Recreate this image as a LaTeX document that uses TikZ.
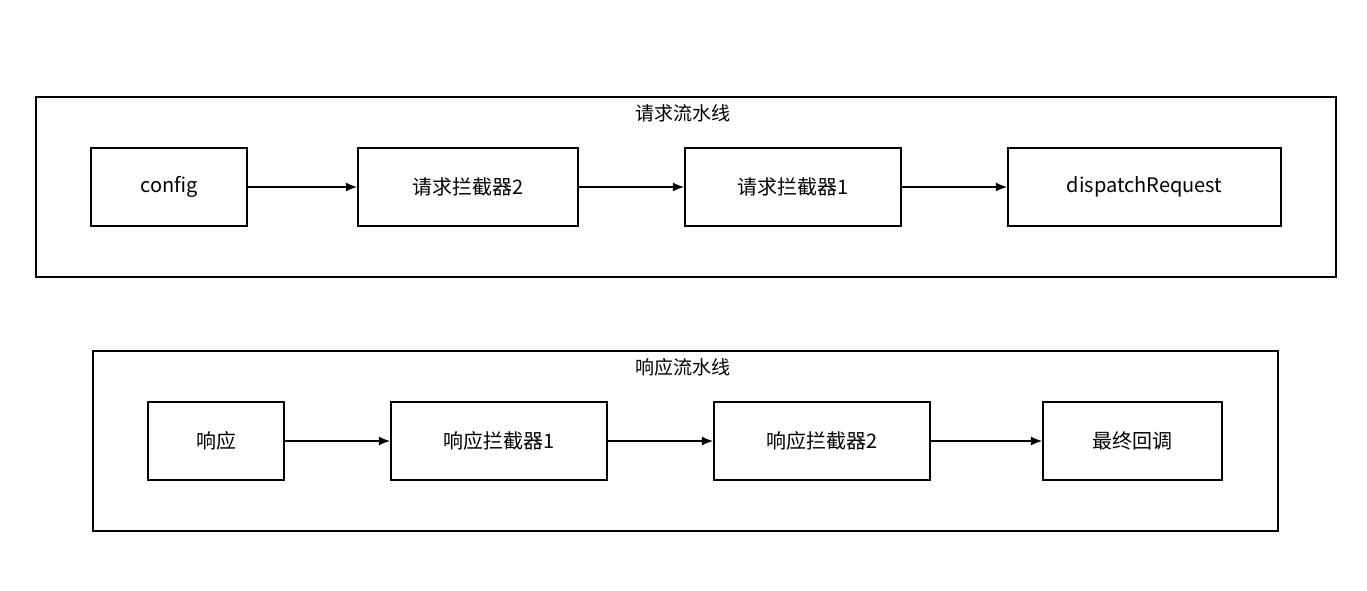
\documentclass[tikz,border=0pt]{standalone}
\usepackage{fontspec}
\setmainfont{Noto Sans CJK SC}
\usetikzlibrary{arrows.meta}
\begin{document}
\begin{tikzpicture}[x=1pt,y=-1pt,
  box/.style={draw,line width=2.2pt,minimum height=78pt,inner sep=0pt,font=\fontsize{20}{24}\selectfont},
  grp/.style={draw,line width=2.2pt,inner sep=0pt},
  arr/.style={-{Latex[length=11pt,width=9pt]},line width=1.1pt},
  ttl/.style={font=\fontsize{19}{23}\selectfont}]
\useasboundingbox (0,0) rectangle (1367,590);
\node[grp,minimum width=1300pt,minimum height=180pt] (g1) at (686,187) {};
\node[ttl] (t1) at (683,113) {请求流水线};
\node[box,minimum width=156pt] (a1) at (169,187) {config};
\node[box,minimum width=220pt] (a2) at (468,187) {请求拦截器2};
\node[box,minimum width=216pt] (a3) at (793,187) {请求拦截器1};
\node[box,minimum width=273pt] (a4) at (1144.5,187) {dispatchRequest};
\draw[arr] (a1) -- (a2);
\draw[arr] (a2) -- (a3);
\draw[arr] (a3) -- (a4);
\node[grp,minimum width=1185pt,minimum height=180pt] (g2) at (685.5,441) {};
\node[ttl] (t2) at (683,367) {响应流水线};
\node[box,minimum width=136pt] (b1) at (216,441) {响应};
\node[box,minimum width=216pt] (b2) at (499,441) {响应拦截器1};
\node[box,minimum width=216pt] (b3) at (822,441) {响应拦截器2};
\node[box,minimum width=179pt] (b4) at (1132.5,441) {最终回调};
\draw[arr] (b1) -- (b2);
\draw[arr] (b2) -- (b3);
\draw[arr] (b3) -- (b4);
\end{tikzpicture}
\end{document}
